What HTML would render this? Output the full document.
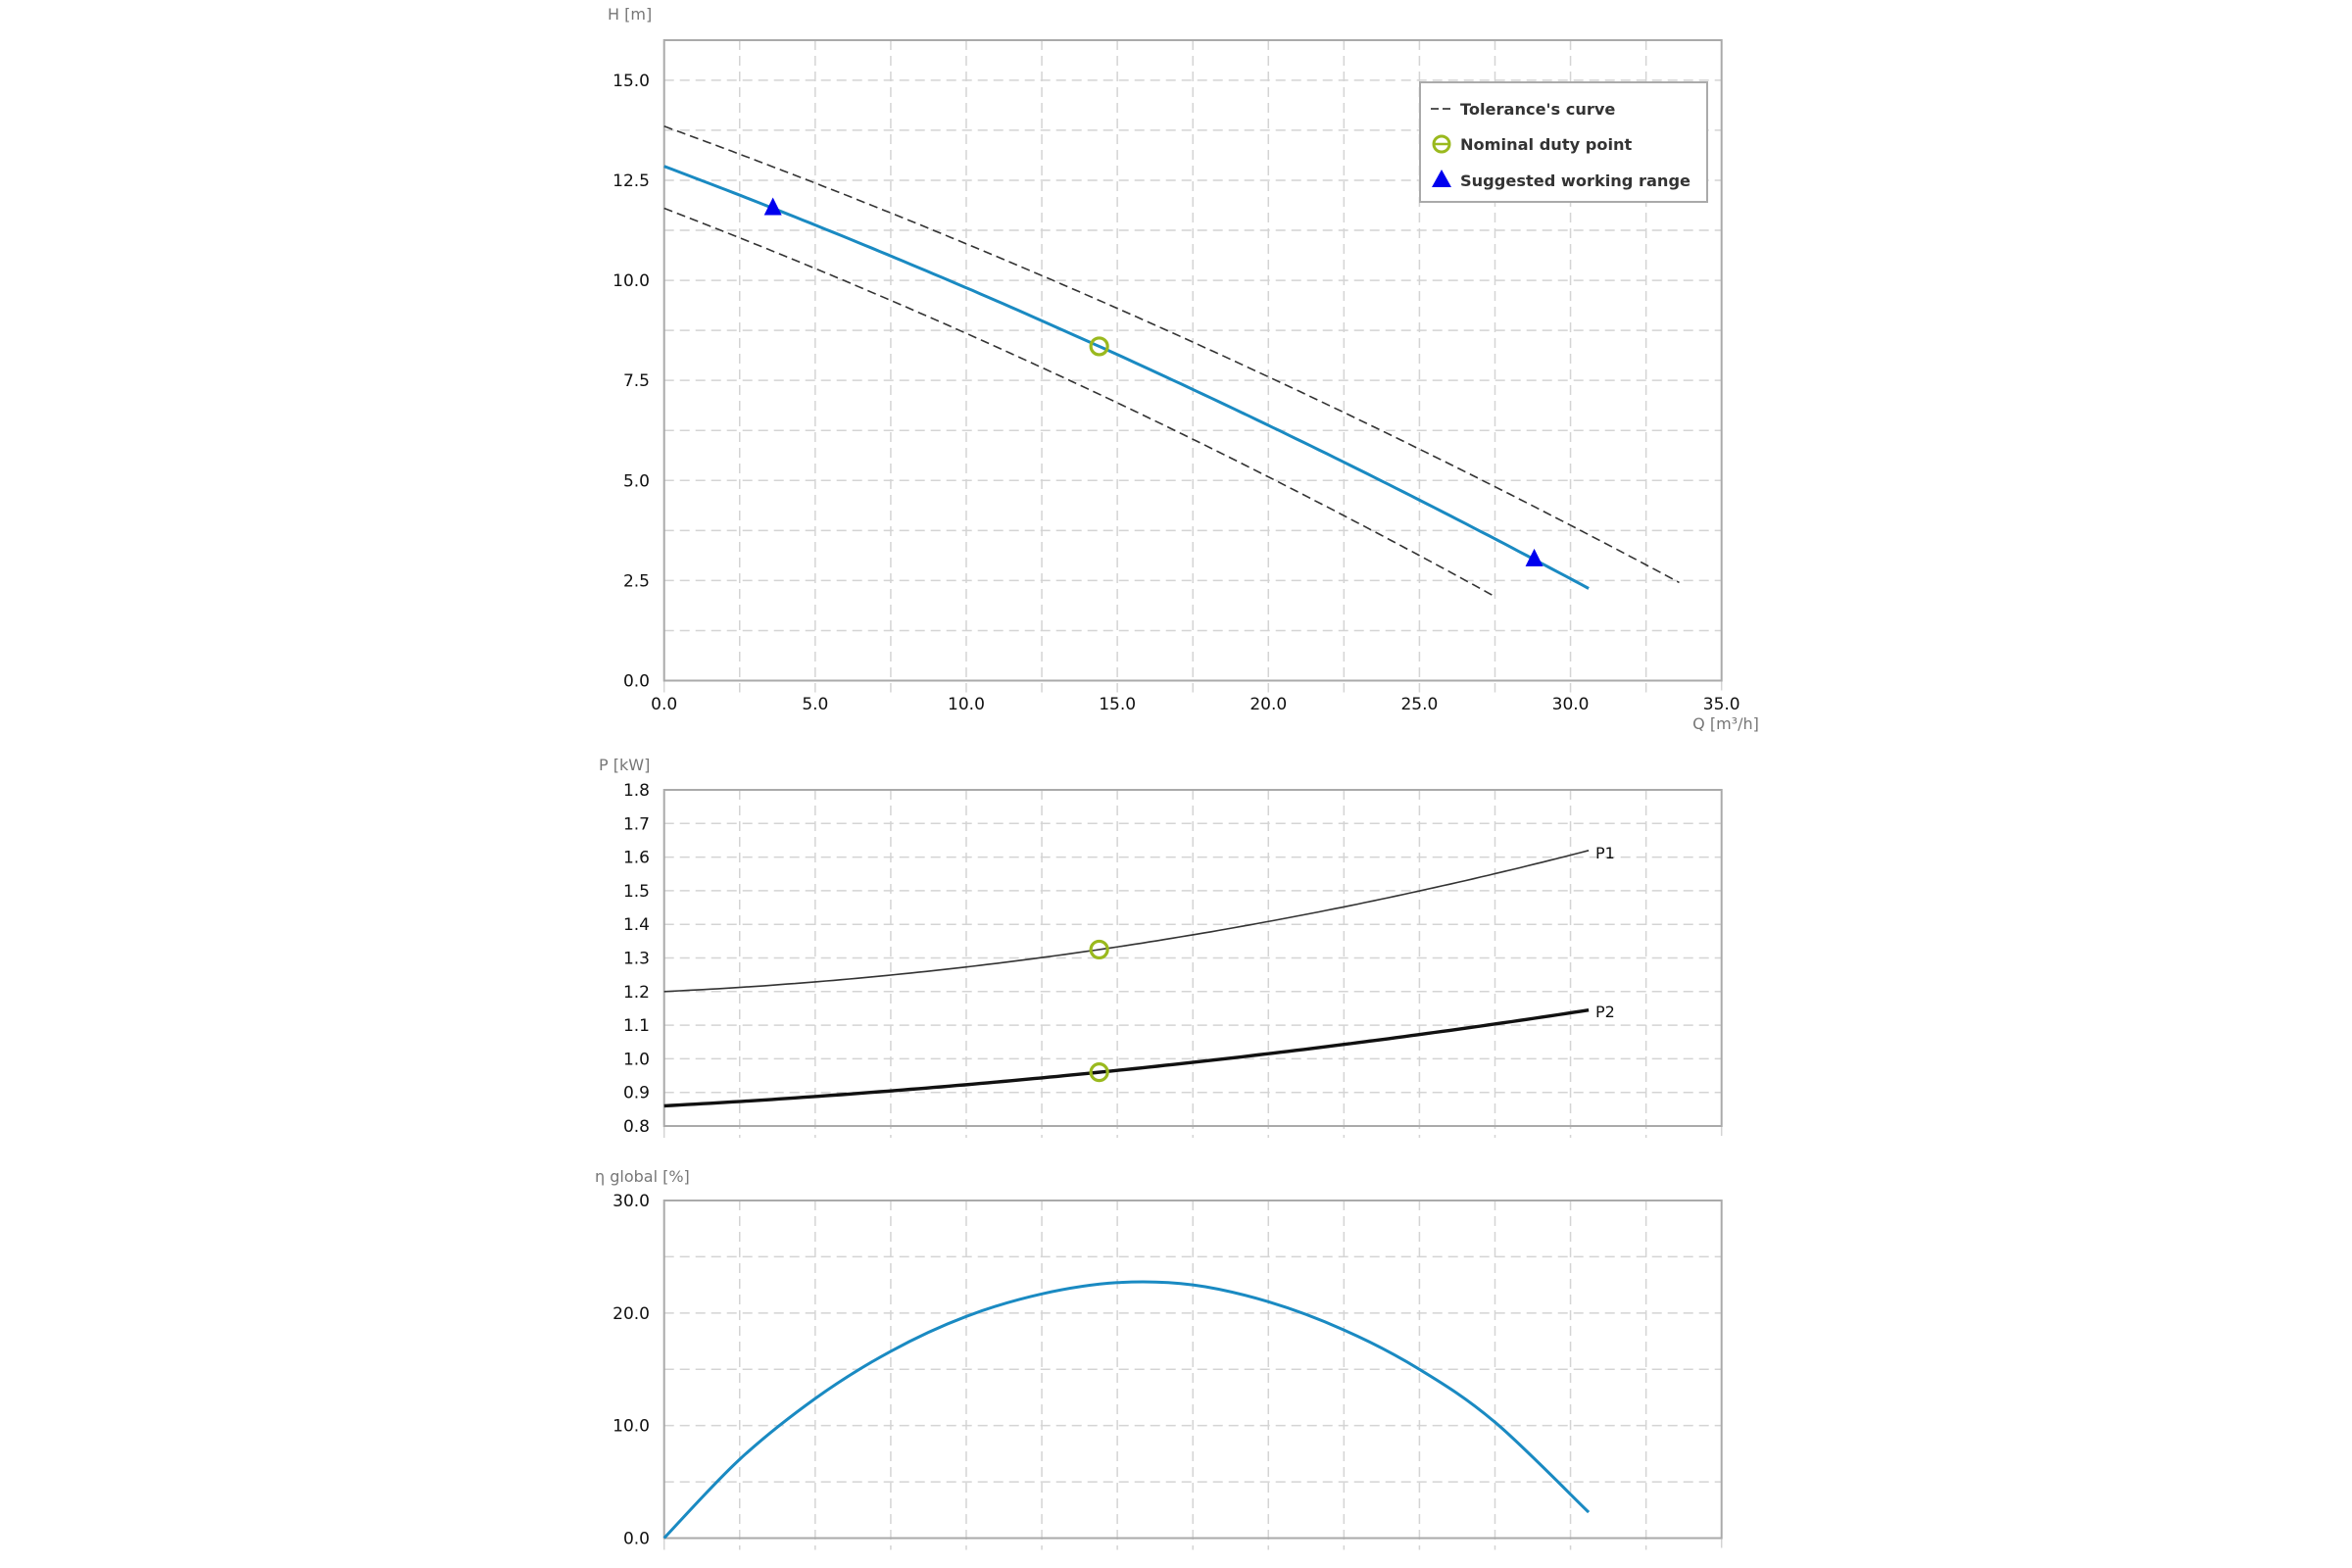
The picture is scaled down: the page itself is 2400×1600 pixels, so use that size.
<!DOCTYPE html>
<html><head><meta charset="utf-8"><style>
html,body{margin:0;padding:0;background:#fff;width:2400px;height:1600px;overflow:hidden}
svg{display:block}
text{font-family:"DejaVu Sans","Liberation Sans",sans-serif}
</style></head><body>
<svg id="s" width="2400" height="1600" xmlns="http://www.w3.org/2000/svg"></svg>
<script>
const s=document.getElementById('s');
let h='';
const L=677.7,R=1756.7,XS=(R-L)/35;
const X=q=>L+q*XS;
function grid(top,bot,ys){
  for(let i=1;i<14;i++){const x=X(i*2.5);h+=`<line x1="${x}" y1="${top}" x2="${x}" y2="${bot+12}" stroke="#d4d4d4" stroke-width="1.5" stroke-dasharray="10,6"/>`;}
  h+=`<line x1="${R}" y1="${bot}" x2="${R}" y2="${bot+12}" stroke="#d4d4d4" stroke-width="1.5" stroke-dasharray="10,6"/>`;
  h+=`<line x1="${L}" y1="${bot}" x2="${L}" y2="${bot+12}" stroke="#d4d4d4" stroke-width="1.5"/>`;
  ys.forEach(y=>{h+=`<line x1="${L}" y1="${y}" x2="${R}" y2="${y}" stroke="#d4d4d4" stroke-width="1.5" stroke-dasharray="10,6"/>`;});
  h+=`<rect x="${L}" y="${top}" width="${R-L}" height="${bot-top}" fill="none" stroke="#aaa" stroke-width="2"/>`;
}
function path(f,q0,q1,Y){let d='';for(let i=0;i<=120;i++){const q=q0+(q1-q0)*i/120;d+=(i?'L':'M')+X(q).toFixed(1)+','+Y(f(q)).toFixed(1);}return d;}
function ylab(y,t){h+=`<text x="663" y="${y+6}" font-size="17" text-anchor="end" fill="#111">${t}</text>`;}
// Chart 1
const T1=41,B1=694.5,Y1=v=>B1-v*(B1-T1)/16;
let ys=[];for(let i=1;i<=12;i++)ys.push(Y1(i*1.25));
grid(T1,B1,ys);
for(let i=0;i<=6;i++)ylab(Y1(i*2.5),(i*2.5).toFixed(1));
for(let i=0;i<=7;i++)h+=`<text x="${X(i*5)}" y="724" font-size="17" text-anchor="middle" fill="#111">${(i*5).toFixed(1)}</text>`;
h+=`<text x="1761" y="744" font-size="16" text-anchor="middle" fill="#777">Q [m³/h]</text>`;
h+=`<text x="620" y="20" font-size="16" fill="#777">H [m]</text>`;
const Hm=q=>12.85-0.2838*q-0.00199*q*q, Hu=q=>13.85-0.2744*q-0.00193*q*q, Hl=q=>11.8-0.2895*q-0.0023*q*q;
h+=`<path d="${path(Hu,0,33.6,Y1)}" fill="none" stroke="#333" stroke-width="1.6" stroke-dasharray="9,5"/>`;
h+=`<path d="${path(Hl,0,27.5,Y1)}" fill="none" stroke="#333" stroke-width="1.6" stroke-dasharray="9,5"/>`;
h+=`<path d="${path(Hm,0,30.6,Y1)}" fill="none" stroke="#1a8ac2" stroke-width="3"/>`;
function tri(x,y){h+=`<polygon points="${x},${y-11} ${x-9},${y+7} ${x+9},${y+7}" fill="#0000ee"/>`;}
function circ(x,y){h+=`<circle cx="${x}" cy="${y}" r="8.5" fill="none" stroke="#9ab91e" stroke-width="3.2"/>`;}
tri(X(3.6),Y1(Hm(3.6)));tri(X(28.8),Y1(Hm(28.8)));
circ(X(14.4),Y1(Hm(14.4)));
// legend
h+=`<rect x="1449" y="84" width="293" height="122" fill="#fff" stroke="#aaa" stroke-width="2"/>`;
h+=`<line x1="1460" y1="111" x2="1483" y2="111" stroke="#555" stroke-width="2" stroke-dasharray="8,4"/>`;
h+=`<circle cx="1471" cy="147" r="8" fill="none" stroke="#9ab91e" stroke-width="3"/><line x1="1463" y1="147" x2="1479" y2="147" stroke="#9ab91e" stroke-width="2.5"/>`;
h+=`<polygon points="1471,173 1461,191 1481,191" fill="#0000ee"/>`;
[['Tolerance\'s curve',111],['Nominal duty point',147],['Suggested working range',184]].forEach(([t,y])=>{h+=`<text x="1490" y="${y+6}" font-size="16.2" font-weight="bold" fill="#333">${t}</text>`;});
// Chart 2
const T2=806,B2=1149,Y2=v=>B2-(v-0.8)*(B2-T2);
ys=[];for(let i=1;i<10;i++)ys.push(Y2(0.8+i*0.1));
grid(T2,B2,ys);
for(let i=0;i<=10;i++)ylab(Y2(0.8+i*0.1),(0.8+i*0.1).toFixed(1));
h+=`<text x="611" y="786" font-size="16" fill="#777">P [kW]</text>`;
const P1=q=>1.2+0.0042*q+0.000311*q*q, P2=q=>0.86+0.00484*q+0.000146*q*q;
h+=`<path d="${path(P1,0,30.6,Y2)}" fill="none" stroke="#333" stroke-width="1.6"/>`;
h+=`<path d="${path(P2,0,30.6,Y2)}" fill="none" stroke="#111" stroke-width="3.4"/>`;
circ(X(14.4),Y2(P1(14.4)));circ(X(14.4),Y2(P2(14.4)));
h+=`<text x="1628" y="876" font-size="16" fill="#111">P1</text>`;
h+=`<text x="1628" y="1038" font-size="16" fill="#111">P2</text>`;
// Chart 3
const T3=1225,B3=1569.5,Y3=v=>B3-v*(B3-T3)/30;
ys=[];for(let i=1;i<6;i++)ys.push(Y3(i*5));
grid(T3,B3,ys);
for(let i=0;i<=3;i++)ylab(Y3(i*10),(i*10).toFixed(1));
h+=`<text x="607" y="1206" font-size="16" fill="#777">η global [%]</text>`;
const pts=[[0,0],[2.5,7.0],[5,12.4],[7.5,16.6],[10,19.7],[12.5,21.7],[15,22.7],[17.5,22.5],[20,21.0],[22.5,18.5],[25,15.0],[27.5,10.3],[30.6,2.3]];
let d='M'+X(0)+','+Y3(0);
for(let i=0;i<pts.length-1;i++){
  const p0=pts[Math.max(0,i-1)],p1=pts[i],p2=pts[i+1],p3=pts[Math.min(pts.length-1,i+2)];
  const P=p=>[X(p[0]),Y3(p[1])];
  const a=P(p0),b=P(p1),c=P(p2),e=P(p3);
  const c1=[b[0]+(c[0]-a[0])/6,b[1]+(c[1]-a[1])/6],c2=[c[0]-(e[0]-b[0])/6,c[1]-(e[1]-b[1])/6];
  d+=`C${c1[0].toFixed(1)},${c1[1].toFixed(1)} ${c2[0].toFixed(1)},${c2[1].toFixed(1)} ${c[0].toFixed(1)},${c[1].toFixed(1)}`;
}
h+=`<path d="${d}" fill="none" stroke="#1a8ac2" stroke-width="3"/>`;
s.innerHTML=h;
</script>
</body></html>
